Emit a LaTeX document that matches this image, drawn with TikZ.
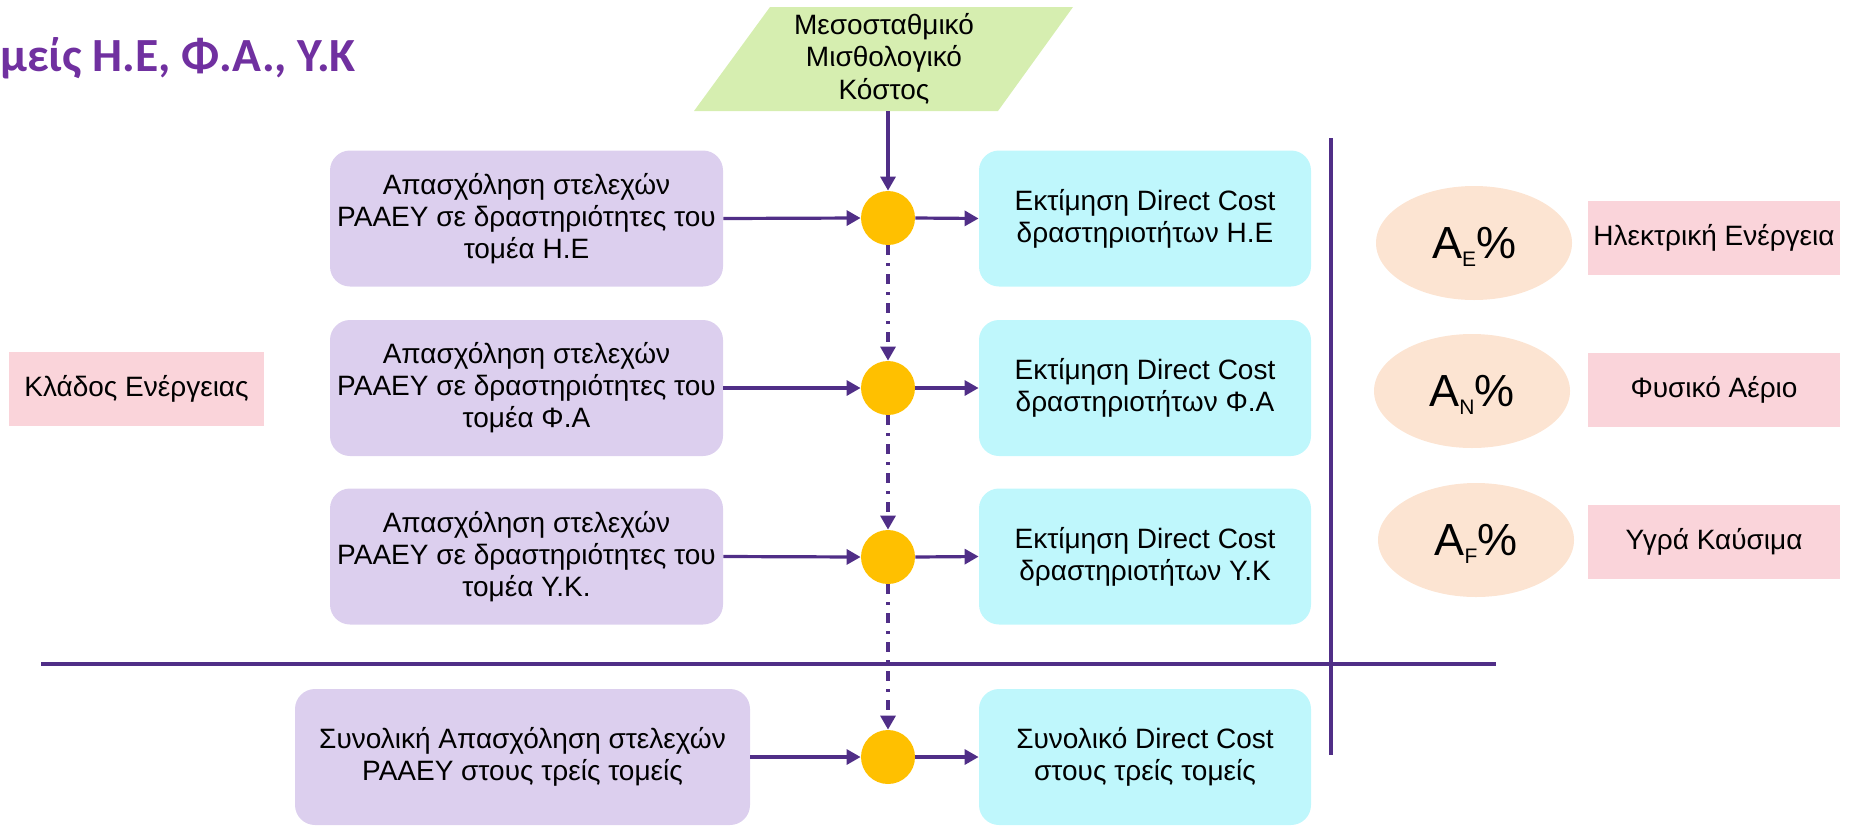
\documentclass[tikz,border=0pt]{standalone}
\usepackage{fontspec}
\setmainfont{Liberation Sans}
\newfontfamily\titlefont{Carlito}
\usetikzlibrary{arrows.meta,shapes.geometric}
\definecolor{lila}{RGB}{220,207,238}
\definecolor{cyanbox}{RGB}{191,247,252}
\definecolor{amber}{RGB}{255,192,0}
\definecolor{linecol}{RGB}{80,46,135}
\definecolor{paragreen}{RGB}{214,238,176}
\definecolor{peach}{RGB}{252,228,210}
\definecolor{pinkbox}{RGB}{250,212,218}
\definecolor{titlepurple}{RGB}{112,48,160}
\newcommand{\pct}[1]{A\smash{\raisebox{-4pt}{\fontsize{10.5pt}{11pt}\selectfont #1}}\%}
\tikzset{
  txt/.style={font=\fontsize{14pt}{16pt}\selectfont, align=center},
  workbox/.style={txt, fill=lila, rounded corners=10pt, minimum width=196.5pt, minimum height=68pt, inner sep=2pt},
  costbox/.style={txt, fill=cyanbox, rounded corners=10pt, minimum width=166pt, minimum height=68pt, inner sep=2pt},
  dot/.style={circle, fill=amber, minimum size=27pt, inner sep=0pt},
  share/.style={ellipse, fill=peach, minimum width=98pt, minimum height=57pt, inner sep=0pt, font=\fontsize{22.5pt}{24pt}\selectfont},
  tag/.style={txt, fill=pinkbox, minimum width=126pt, minimum height=37pt, inner sep=0pt},
  flow/.style={draw=linecol, line width=1.6pt, -{Triangle[length=7pt,width=7.5pt]}},
  chain/.style={flow, dash pattern=on 5pt off 4pt on 1.5pt off 4pt},
  sepline/.style={draw=linecol, line width=2pt}
}
\begin{document}
\begin{tikzpicture}[x=0.5pt,y=-0.5pt]
\useasboundingbox (0,0) rectangle (1850,825);
% title
\node[anchor=base west, inner sep=0pt, text=titlepurple, font=\titlefont\bfseries\fontsize{23.8pt}{27pt}\selectfont] (title) at (0,71) {μείς Η.Ε, Φ.Α., Υ.Κ};
% input
\fill[paragreen] (770,7) -- (1073,7) -- (998,111) -- (694,111) -- cycle;
\node[txt, minimum height=52pt, inner sep=0pt] (mmk) at (884,59) {\raisebox{-3pt}{\shortstack{Μεσοσταθμικό\\Μισθολογικό\\Κόστος}}};
% rows
\node[workbox] (w1) at (526.5,218.5) {Απασχόληση στελεχών\\ΡΑΑΕΥ σε δραστηριότητες του\\τομέα Η.Ε};
\node[workbox] (w2) at (526.5,388) {Απασχόληση στελεχών\\ΡΑΑΕΥ σε δραστηριότητες του\\τομέα Φ.Α};
\node[workbox] (w3) at (526.5,556.5) {Απασχόληση στελεχών\\ΡΑΑΕΥ σε δραστηριότητες του\\τομέα Υ.Κ.};
\node[workbox, minimum width=227.5pt] (w4) at (522.5,757) {Συνολική Απασχόληση στελεχών\\ΡΑΑΕΥ στους τρείς τομείς};
\node[dot] (c1) at (888,218) {};
\node[dot] (c2) at (888,388) {};
\node[dot] (c3) at (888,557) {};
\node[dot] (c4) at (888,757) {};
\node[costbox] (d1) at (1145,218.5) {Εκτίμηση Direct Cost\\δραστηριοτήτων Η.Ε};
\node[costbox] (d2) at (1145,388) {Εκτίμηση Direct Cost\\δραστηριοτήτων Φ.Α};
\node[costbox] (d3) at (1145,556.5) {Εκτίμηση Direct Cost\\δραστηριοτήτων Υ.Κ};
\node[costbox] (d4) at (1145,757) {Συνολικό Direct Cost\\στους τρείς τομείς};
% connectors
\draw[flow] (c1 |- mmk.south) -- (c1.north);
\draw[flow] (w1.east) -- (c1.west);
\draw[flow] (w2.east) -- (c2.west);
\draw[flow] (w3.east) -- (c3.west);
\draw[flow] (w4.east) -- (c4.west);
\draw[flow] (c1.east) -- (d1.west);
\draw[flow] (c2.east) -- (d2.west);
\draw[flow] (c3.east) -- (d3.west);
\draw[flow] (c4.east) -- (d4.west);
\draw[chain] (c1.south) -- (c2.north);
\draw[chain] (c2.south) -- (c3.north);
\draw[chain] (c3.south) -- (c4.north);
% separators
\draw[sepline] (41,664) -- (1496,664);
\draw[sepline] (1331,138) -- (1331,755);
% shares
\node[share] (aE) at (1474,243) {\pct{E}};
\node[share] (aN) at (1472,391) {\pct{N}};
\node[share] (aF) at (1476,540) {\pct{F}};
\node[tag] (he) at (1714,238) {Ηλεκτρική Ενέργεια};
\node[tag] (fa) at (1714,390) {Φυσικό Αέριο};
\node[tag] (yk) at (1714,542) {Υγρά Καύσιμα};
\node[tag, minimum width=127.5pt] (kl) at (136.5,389) {Κλάδος Ενέργειας};
\end{tikzpicture}
\end{document}
